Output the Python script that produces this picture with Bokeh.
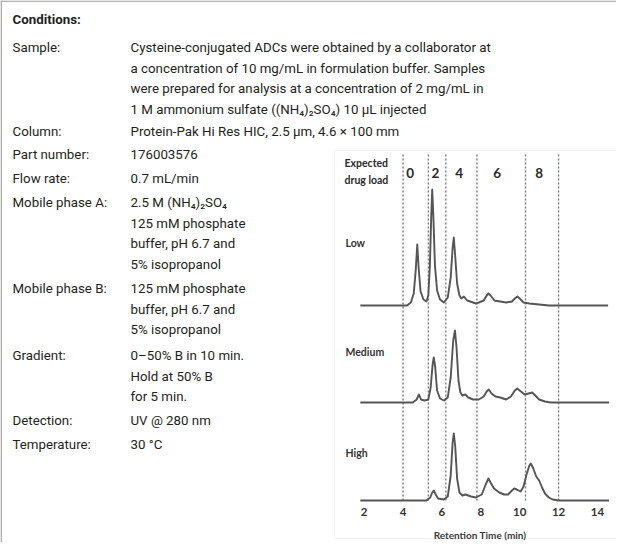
from bokeh.plotting import figure
from bokeh.models import Range1d, Label, BoxAnnotation, FixedTicker, LinearAxis
from bokeh.core.properties import value
from bokeh.embed import file_html
from bokeh.resources import INLINE

# ---------------- data ----------------
condition_title = "Conditions:"
condition_labels = ["Sample:", "Column:", "Part number:", "Flow rate:", "Mobile phase A:",
                    "Mobile phase B:", "Gradient:", "Detection:", "Temperature:"]
condition_values = [
    ["Cysteine-conjugated ADCs were obtained by a collaborator at",
     "a concentration of 10 mg/mL in formulation buffer. Samples",
     "were prepared for analysis at a concentration of 2 mg/mL in",
     "1 M ammonium sulfate ((NH\u2084)\u2082SO\u2084) 10 \u00b5L injected"],
    ["Protein-Pak Hi Res HIC, 2.5 \u00b5m, 4.6 \u00d7 100 mm"],
    ["176003576"],
    ["0.7 mL/min"],
    ["2.5 M (NH\u2084)\u2082SO\u2084", "125 mM phosphate", "buffer, pH 6.7 and", "5% isopropanol"],
    ["125 mM phosphate", "buffer, pH 6.7 and", "5% isopropanol"],
    ["0\u201350% B in 10 min.", "Hold at 50% B", "for 5 min."],
    ["UV @ 280 nm"],
    ["30 \u00b0C"],
]

trace_names = ["Low", "Medium", "High"]

low_t = [1.8, 4.2, 4.4, 4.55, 4.65, 4.73, 4.8, 4.9, 5.05, 5.2, 5.3, 5.38, 5.45, 5.5, 5.56, 5.64,
         5.75, 5.9, 6.1, 6.3, 6.45, 6.55, 6.61, 6.68, 6.78, 6.9, 7.0, 7.13, 7.3, 7.6, 7.75, 7.9,
         8.15, 8.3, 8.39, 8.5, 8.7, 9.0, 9.3, 9.6, 9.75, 9.88, 10.0, 10.2, 10.5, 11.0, 11.5, 14.55]
low_y = [0, 0, 3, 12, 35, 61, 38, 14, 6, 4, 10, 40, 90, 116, 88, 40,
         15, 6, 3, 8, 28, 58, 68, 50, 22, 10, 7, 9, 5, 3, 2, 3,
         5, 10, 12, 10, 5, 4, 3, 4, 7, 9, 7, 3, 2, 1, 0, 0]

medium_t = [1.8, 4.5, 4.7, 4.82, 4.92, 5.1, 5.3, 5.42, 5.52, 5.58, 5.65, 5.75, 5.9, 6.1, 6.3, 6.45,
            6.58, 6.67, 6.75, 6.85, 6.95, 7.05, 7.2, 7.35, 7.6, 7.9, 8.15, 8.3, 8.41, 8.55, 8.75,
            9.0, 9.3, 9.55, 9.75, 9.87, 10.0, 10.25, 10.45, 10.64, 10.8, 11.0, 11.3, 11.6, 14.6]
medium_y = [0, 0, 3, 8, 3, 2, 3, 15, 38, 45, 36, 12, 4, 2, 5, 25,
            62, 72, 55, 22, 10, 7, 8, 5, 3, 3, 6, 11, 13, 9, 6,
            5, 3, 6, 12, 14, 12, 8, 9, 10, 7, 3, 1, 0, 0]

high_t = [1.8, 5.2, 5.4, 5.5, 5.58, 5.68, 5.8, 6.1, 6.3, 6.45, 6.55, 6.61, 6.68, 6.78, 6.9, 7.05,
          7.2, 7.5, 7.75, 8.05, 8.25, 8.39, 8.5, 8.68, 8.95, 9.2, 9.4, 9.6, 9.72, 9.85, 10.05,
          10.2, 10.35, 10.5, 10.57, 10.7, 10.85, 11.0, 11.15, 11.3, 11.5, 11.7, 12.0, 14.6]
high_y = [0, 0, 3, 8, 10, 6, 2, 1, 4, 25, 58, 67, 55, 22, 8, 5,
          6, 4, 3, 6, 16, 22, 18, 12, 8, 6, 6, 10, 12, 11, 9,
          14, 26, 35, 37, 32, 24, 20, 13, 7, 3, 1, 0, 0]

drug_loads = ["0", "2", "4", "6", "8"]
drug_load_t = [4.37, 5.66, 6.89, 8.84, 11.0]
boundary_t = [4.0, 5.3, 6.2, 7.8, 10.3, 12.0]
tick_values = [2, 4, 6, 8, 10, 12, 14]
x_title = "Retention Time (min)"
header_lines = ["Expected", "drug load"]

# ---------------- figure ----------------
W, H = 616, 542
p = figure(width=W, height=H, output_backend="svg", toolbar_location=None,
           x_range=Range1d(-16.71, 14.98), y_range=Range1d(-42, 500),
           min_border_left=0, min_border_right=0, min_border_top=0, min_border_bottom=0,
           x_axis_location=None, y_axis_location=None)
p.extra_x_ranges = {"px": Range1d(8, 624)}
p.extra_y_ranges = {"px": Range1d(550, 8)}
p.grid.visible = False
p.outline_line_color = None
p.background_fill_color = "white"
p.border_fill_color = "white"

ax = LinearAxis(fixed_location=0, ticker=FixedTicker(ticks=tick_values, minor_ticks=[]))
ax.axis_line_color = None
ax.major_tick_line_color = None
ax.major_tick_out = 0
ax.major_tick_in = 0
ax.major_label_standoff = 7
ax.major_label_text_font = "Lato"
ax.major_label_text_font_style = "bold"
ax.major_label_text_font_size = "11.5px"
ax.major_label_text_color = "#333333"
p.add_layout(ax, "below")

# frame lines of the page box
p.add_layout(BoxAnnotation(left=8, right=9.3, top=8, bottom=600, x_range_name="px", y_range_name="px",
                           fill_color="#9a9a9a", fill_alpha=1, line_alpha=0, level="overlay"))
p.add_layout(BoxAnnotation(left=8, right=700, top=8, bottom=9.3, x_range_name="px", y_range_name="px",
                           fill_color="#9a9a9a", fill_alpha=1, line_alpha=0, level="overlay"))
# faint inset frame
p.add_layout(BoxAnnotation(left=342, right=626, top=158, bottom=546, x_range_name="px", y_range_name="px",
                           fill_alpha=0, line_color="#dcdcdc", line_width=1))

# ---------------- text panel ----------------
FONT = "Roboto"
TXT = "#231f20"


def px_label(x, y, text, size="13.3px", style="normal", color=TXT, font=FONT, align="left"):
    p.add_layout(Label(x=x, y=y, x_range_name="px", y_range_name="px", text=text,
                       text_font=font, text_font_size=size, text_font_style=style,
                       text_color=color, text_align=align, text_baseline="middle"))


row_y = [[55, 75.5, 96, 116.5], [139], [162], [186], [210, 230.5, 251, 271.5],
         [296, 316.5, 337], [363, 383.5, 404], [428], [452]]
px_label(20, 27, condition_title, style="bold")
for lab, vals, ys in zip(condition_labels, condition_values, row_y):
    px_label(20, ys[0], lab)
    for v, yy in zip(vals, ys):
        px_label(138, yy, v)

# ---------------- chromatogram ----------------
offsets = [195, 98, 0]
traces = [(low_t, low_y), (medium_t, medium_y), (high_t, high_y)]

p.segment(x0=boundary_t, y0=[0] * len(boundary_t), x1=boundary_t, y1=[348] * len(boundary_t),
          line_color="#7d7d7d", line_width=1.4, line_dash="2 2")

for (tt, yy), off in zip(traces, offsets):
    p.line(tt, [v + off for v in yy], line_color="#555555", line_width=1.9, line_join="round")

p.text(x=drug_load_t, y=[328] * len(drug_load_t), text=drug_loads,
       text_font=value("Lato"), text_font_style="bold", text_font_size="13.5px",
       text_color="#2a2a2a", text_align="center", text_baseline="middle")

px_label(352, 170, header_lines[0], size="10.5px", style="bold", color="#2a2a2a", font="Lato")
px_label(352, 187, header_lines[1], size="10.5px", style="bold", color="#2a2a2a", font="Lato")
for name, yy in zip(trace_names, [250, 359, 460]):
    px_label(353, yy, name, size="10.5px", style="bold", color="#333333", font="Lato")
px_label(487.5, 542, x_title, size="10px", style="bold", color="#3a3a3a", font="Lato", align="center")

open("out.html", "w").write(file_html(p, INLINE))
